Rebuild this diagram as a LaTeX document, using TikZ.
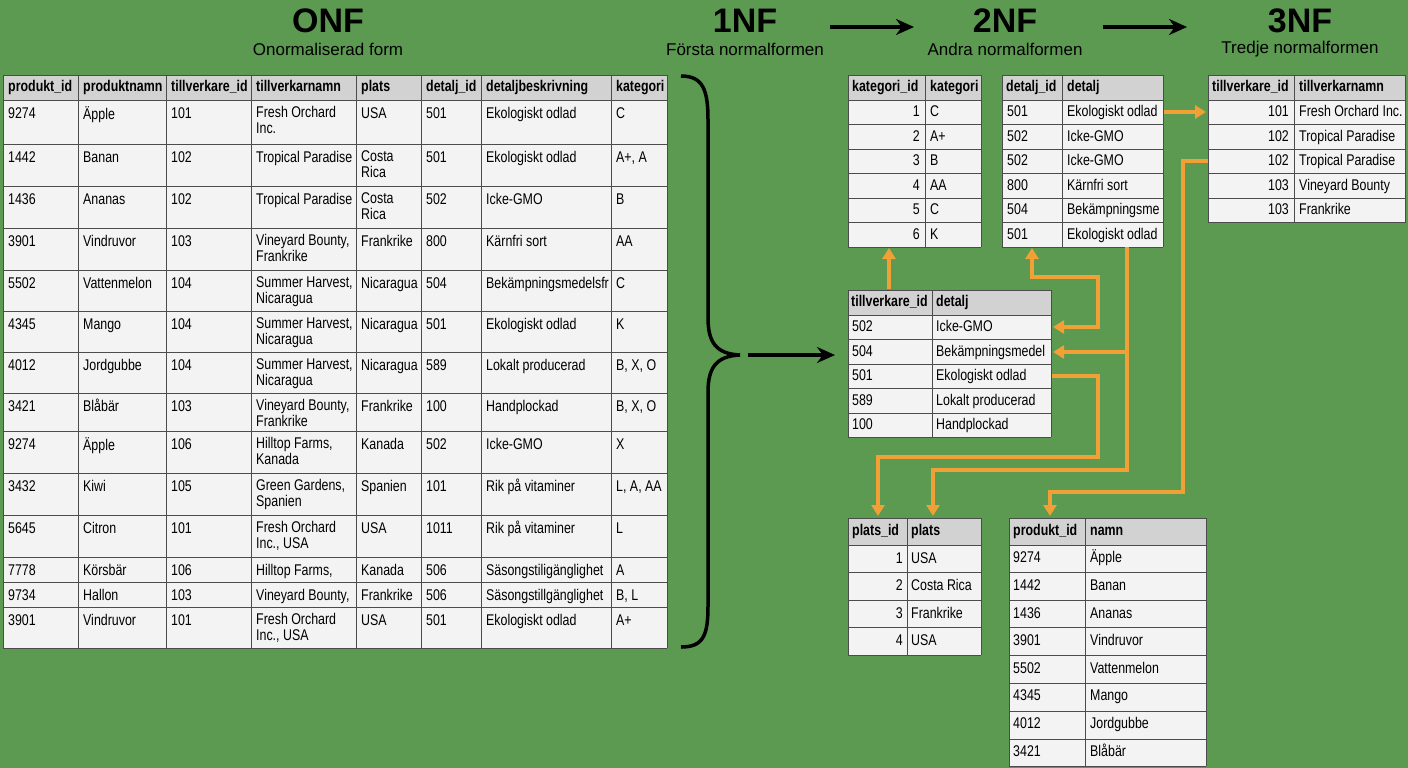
\documentclass[tikz,border=0pt]{standalone}
\usepackage{fontspec}
\setmainfont{Liberation Sans}[FakeStretch=0.8]
\newfontfamily\wide{Liberation Sans}
\usetikzlibrary{arrows.meta}
\definecolor{bggreen}{HTML}{5B9A50}
\definecolor{cellgray}{HTML}{F3F3F3}
\definecolor{headgray}{HTML}{D2D2D2}
\definecolor{linkorange}{HTML}{F0A035}
\tikzset{
  cell/.style={fill=cellgray},
  head/.style={fill=headgray},
  grid/.style={draw=black!70, line width=0.8pt},
  hd/.style={anchor=west, inner sep=0pt, text height=11pt, text depth=3pt, font=\fontsize{15.5}{16}\selectfont\bfseries},
  td/.style={anchor=north west, inner sep=0pt, align=left, font=\fontsize{15.5}{16}\selectfont,
    execute at begin node=\rule{0pt}{12pt}},
  tdr/.style={anchor=east, inner sep=0pt, text height=11pt, text depth=3pt, font=\fontsize{15.5}{16}\selectfont},
  tdl/.style={anchor=west, inner sep=0pt, text height=11pt, text depth=3pt, font=\fontsize{15.5}{16}\selectfont},
  title/.style={font=\wide\fontsize{34}{36}\selectfont\bfseries},
  subtitle/.style={font=\wide\fontsize{17}{19}\selectfont},
  nfarrow/.style={-{Stealth[length=18pt,width=16pt]}, line width=3.5pt},
  link/.style={-{Triangle[length=11pt,width=13pt]}, draw=linkorange, line width=3.5pt},
}
\begin{document}
\begin{tikzpicture}[x=1pt,y=-1pt]
\fill[bggreen] (0,0) rectangle (1408,768);
\useasboundingbox (0,0) rectangle (1408,768);
% titles
\node[title] (onf) at (328,21) {ONF};
\node[subtitle] (onfs) at (328,49) {Onormaliserad form};
\node[title] (nf1) at (745,21) {1NF};
\node[subtitle] (nf1s) at (745,49) {Första normalformen};
\node[title] (nf2) at (1005,21) {2NF};
\node[subtitle] (nf2s) at (1005,49) {Andra normalformen};
\node[title] (nf3) at (1300,21) {3NF};
\node[subtitle] (nf3s) at (1300,49) {Tredje normalformen};
\coordinate (a1) at (830,27);
\coordinate (a2) at (914,27);
\coordinate (b1) at (1103,27);
\coordinate (b2) at (1187,27);
\draw[nfarrow] (a1) -- (a2);
\draw[nfarrow] (b1) -- (b2);
% ONF table
\fill[cell] (3,75) rectangle (667,648);
\fill[head] (3,75) rectangle (667,100);
\foreach \y in {75,100,144,186,228,270,311,352,393,431,473,515,557,582,607,648}
  \draw[grid] (3,\y) -- (667,\y);
\foreach \x in {3,78,166,251,356,421,481,611,667}
  \draw[grid] (\x,75) -- (\x,648);
\foreach \x/\t [count=\i] in {3/produkt\_id,78/produktnamn,166/tillverkare\_id,251/tillverkarnamn,356/plats,421/detalj\_id,481/detaljbeskrivning,611/kategori}
  \node[hd] (h\i) at (\x+5,88) {\t};
\foreach \y/\a/\b/\c/\d/\e/\f/\g/\h [count=\r] in {
  100/9274/Äpple/101/{Fresh Orchard\\Inc.}/USA/501/Ekologiskt odlad/C,
  144/1442/Banan/102/Tropical Paradise/{Costa\\Rica}/501/Ekologiskt odlad/{A+, A},
  186/1436/Ananas/102/Tropical Paradise/{Costa\\Rica}/502/Icke-GMO/B,
  228/3901/Vindruvor/103/{Vineyard Bounty,\\Frankrike}/Frankrike/800/Kärnfri sort/AA,
  270/5502/Vattenmelon/104/{Summer Harvest,\\Nicaragua}/Nicaragua/504/Bekämpningsmedelsfr/C,
  311/4345/Mango/104/{Summer Harvest,\\Nicaragua}/Nicaragua/501/Ekologiskt odlad/K,
  352/4012/Jordgubbe/104/{Summer Harvest,\\Nicaragua}/Nicaragua/589/Lokalt producerad/{B, X, O},
  393/3421/Blåbär/103/{Vineyard Bounty,\\Frankrike}/Frankrike/100/Handplockad/{B, X, O},
  431/9274/Äpple/106/{Hilltop Farms,\\Kanada}/Kanada/502/Icke-GMO/X,
  473/3432/Kiwi/105/{Green Gardens,\\Spanien}/Spanien/101/Rik på vitaminer/{L, A, AA},
  515/5645/Citron/101/{Fresh Orchard\\Inc., USA}/USA/1011/Rik på vitaminer/L,
  557/7778/Körsbär/106/{Hilltop Farms,}/Kanada/506/Säsongstiligänglighet/A,
  582/9734/Hallon/103/{Vineyard Bounty,}/Frankrike/506/Säsongstillgänglighet/{B, L},
  607/3901/Vindruvor/101/{Fresh Orchard\\Inc., USA}/USA/501/Ekologiskt odlad/A+}{
  \node[td] (r\r a) at (8,\y+6) {\a};
  \node[td] (r\r b) at (83,\y+6) {\b};
  \node[td] (r\r c) at (171,\y+6) {\c};
  \node[td] (r\r d) at (256,\y+6) {\d};
  \node[td] (r\r e) at (361,\y+6) {\e};
  \node[td] (r\r f) at (426,\y+6) {\f};
  \node[td] (r\r g) at (486,\y+6) {\g};
  \node[td] (r\r h) at (616,\y+6) {\h};
}
% brace and 1NF arrow
\draw[line width=3.5pt] (681,76) .. controls (703,76) and (708,90) .. (708,120) -- (708,318)
  .. controls (708,342) and (716,354) .. (740,355)
  .. controls (716,356) and (708,368) .. (708,392) -- (708,606)
  .. controls (708,636) and (703,647) .. (681,647);
\coordinate (tipa) at (748,355);
\coordinate (tipb) at (835,355);
\draw[nfarrow] (tipa) -- (tipb);
% kategori table
\fill[cell] (848,75) rectangle (981,247);
\fill[head] (848,75) rectangle (981,100);
\foreach \y in {75,100,124.5,149,173.5,198,222.5,247} \draw[grid] (848,\y) -- (981,\y);
\foreach \x in {848,925,981} \draw[grid] (\x,75) -- (\x,247);
\node[hd] (kh1) at (852,88) {kategori\_id};
\node[hd] (kh2) at (930,88) {kategori};
\foreach \a/\b [count=\r] in {1/C,2/A+,3/B,4/AA,5/C,6/K}{
  \node[tdr] (k\r a) at (920,100+24.5*\r-12) {\a};
  \node[tdl] (k\r b) at (930,100+24.5*\r-12) {\b};
}
\coordinate (kat) at (889,248);
\coordinate (kfrom) at (889,289);
% detalj table
\fill[cell] (1002,75) rectangle (1163,247);
\fill[head] (1002,75) rectangle (1163,100);
\foreach \y in {75,100,124.5,149,173.5,198,222.5,247} \draw[grid] (1002,\y) -- (1163,\y);
\foreach \x in {1002,1062,1163} \draw[grid] (\x,75) -- (\x,247);
\node[hd] (dh1) at (1006,88) {detalj\_id};
\node[hd] (dh2) at (1067,88) {detalj};
\foreach \a/\b [count=\r] in {501/Ekologiskt odlad,502/Icke-GMO,502/Icke-GMO,800/Kärnfri sort,504/Bekämpningsme,501/Ekologiskt odlad}{
  \node[tdl] (d\r a) at (1007,100+24.5*\r-12) {\a};
  \node[tdl] (d\r b) at (1067,100+24.5*\r-12) {\b};
}
% tillverkare table (3NF)
\fill[cell] (1208,75) rectangle (1405,222.5);
\fill[head] (1208,75) rectangle (1405,100);
\foreach \y in {75,100,124.5,149,173.5,198,222.5} \draw[grid] (1208,\y) -- (1405,\y);
\foreach \x in {1208,1294,1405} \draw[grid] (\x,75) -- (\x,222.5);
\node[hd] (th1) at (1212,88) {tillverkare\_id};
\node[hd] (th2) at (1299,88) {tillverkarnamn};
\foreach \a/\b [count=\r] in {101/Fresh Orchard Inc.,102/Tropical Paradise,102/Tropical Paradise,103/Vineyard Bounty,103/Frankrike}{
  \node[tdr] (t\r a) at (1289,100+24.5*\r-12) {\a};
  \node[tdl] (t\r b) at (1299,100+24.5*\r-12) {\b};
}
% tillverkare_id / detalj table
\fill[cell] (848,290) rectangle (1051,437);
\fill[head] (848,290) rectangle (1051,315);
\foreach \y in {290,315,339.5,364,388.5,413,437} \draw[grid] (848,\y) -- (1051,\y);
\foreach \x in {848,932,1051} \draw[grid] (\x,290) -- (\x,437);
\node[hd] (mh1) at (851,302) {tillverkare\_id};
\node[hd] (mh2) at (936,302) {detalj};
\foreach \a/\b [count=\r] in {502/Icke-GMO,504/Bekämpningsmedel,501/Ekologiskt odlad,589/Lokalt producerad,100/Handplockad}{
  \node[tdl] (m\r a) at (852,315+24.5*\r-12) {\a};
  \node[tdl] (m\r b) at (936,315+24.5*\r-12) {\b};
}
% plats table
\fill[cell] (848,518) rectangle (981,655);
\fill[head] (848,518) rectangle (981,545);
\foreach \y in {518,545,572.5,600,627.5,655} \draw[grid] (848,\y) -- (981,\y);
\foreach \x in {848,907,981} \draw[grid] (\x,518) -- (\x,655);
\node[hd] (ph1) at (852,531) {plats\_id};
\node[hd] (ph2) at (911,531) {plats};
\foreach \a/\b [count=\r] in {1/USA,2/Costa Rica,3/Frankrike,4/USA}{
  \node[tdr] (p\r a) at (903,545+27.5*\r-13.5) {\a};
  \node[tdl] (p\r b) at (911,545+27.5*\r-13.5) {\b};
}
% produkt table
\fill[cell] (1009,518) rectangle (1206,766);
\fill[head] (1009,518) rectangle (1206,545);
\foreach \y in {518,545,572.5,600,627.5,655,683,711,739,766} \draw[grid] (1009,\y) -- (1206,\y);
\foreach \x in {1009,1085,1206} \draw[grid] (\x,518) -- (\x,766);
\node[hd] (qh1) at (1013,531) {produkt\_id};
\node[hd] (qh2) at (1090,531) {namn};
\foreach \a/\b [count=\r] in {9274/Äpple,1442/Banan,1436/Ananas,3901/Vindruvor,5502/Vattenmelon,4345/Mango,4012/Jordgubbe,3421/Blåbär}{
  \node[tdl] (q\r a) at (1013,545+27.6*\r-13.8) {\a};
  \node[tdl] (q\r b) at (1090,545+27.6*\r-13.8) {\b};
}
% links
\coordinate (pl1) at (878,516);
\coordinate (pl2) at (933,516);
\coordinate (pr1) at (1050,516);
\draw[link] (kfrom) -- (kat);
\draw[link] (1164,112) -- (1206,112);
\draw[link, {Triangle[length=11pt,width=13pt]}-{Triangle[length=11pt,width=13pt]}]
  (1032,248) -- (1032,277) -- (1098,277) -- (1098,327) -- (1053,327);
\draw[link] (1127,247) -- (1127,352) -- (1053,352);
\draw[link] (1127,352) -- (1127,470) -- (933,470) -- (pl2);
\draw[link] (1052,376) -- (1098,376) -- (1098,457) -- (878,457) -- (pl1);
\draw[link] (1208,161) -- (1183,161) -- (1183,492) -- (1050,492) -- (pr1);
\end{tikzpicture}
\end{document}
